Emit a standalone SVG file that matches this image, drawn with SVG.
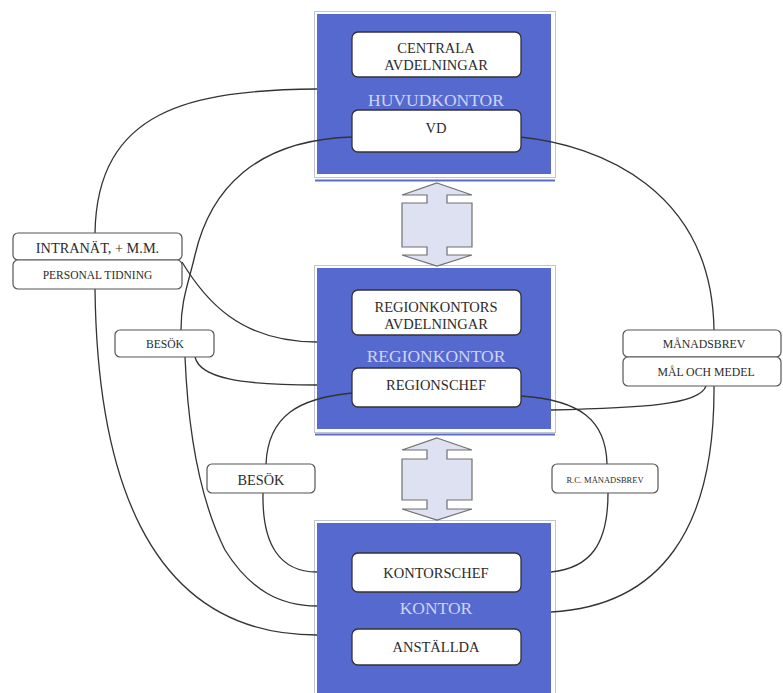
<svg xmlns="http://www.w3.org/2000/svg" width="783" height="693" viewBox="0 0 783 693">
<style>
.bg{fill:#ffffff}
.frame{fill:none;stroke:#bfc3d3;stroke-width:1}
.blue{fill:#5669cf}
.bar{stroke:#5b6cc9;stroke-width:2.2}
.inner{fill:#ffffff;stroke:#333333;stroke-width:1.3}
.lbl{fill:#ffffff;stroke:#555555;stroke-width:1.2}
.t{font-family:"Liberation Serif","Times New Roman",serif;fill:#2b2b2b;text-anchor:middle}
.it{font-size:14.5px}
.cap{font-family:"Liberation Serif","Times New Roman",serif;fill:#cdd4f7;text-anchor:middle;font-size:17.5px}
.conn path{fill:none;stroke:#333333;stroke-width:1.3}
.arrow{fill:#dde1f2;stroke:#707070;stroke-width:1.2}
</style>
<rect class="bg" x="0" y="0" width="783" height="693"/>

<!-- containers -->
<g id="huvudkontor">
<rect class="frame" x="314.5" y="11.5" width="241" height="166"/>
<rect class="blue" x="317" y="14" width="234" height="160"/>
<line class="bar" x1="315" y1="180.5" x2="555" y2="180.5"/>
<text class="cap" x="436" y="106">HUVUDKONTOR</text>
</g>
<g id="regionkontor">
<rect class="frame" x="314.5" y="265.5" width="241" height="167"/>
<rect class="blue" x="317" y="268" width="234" height="161"/>
<line class="bar" x1="315" y1="434.5" x2="555" y2="434.5"/>
<text class="cap" x="436" y="362">REGIONKONTOR</text>
</g>
<g id="kontor">
<rect class="frame" x="314.5" y="520.5" width="241" height="180"/>
<rect class="blue" x="317" y="523" width="234" height="172"/>
<text class="cap" x="436" y="614">KONTOR</text>
</g>

<!-- double arrows -->
<g id="arrow1">
<polygon class="arrow" points="437,183 472,195 447,195 447,203 472,203 472,247 447,247 447,255 472,255 437,266 402,255 427,255 427,247 402,247 402,203 427,203 427,195 402,195"/>
</g>
<g id="arrow2">
<polygon class="arrow" points="437,438 472,450 447,450 447,459 472,459 472,500 447,500 447,509 472,509 437,520 402,509 427,509 427,500 402,500 402,459 427,459 427,450 402,450"/>
</g>

<!-- connectors -->
<g id="connectors" class="conn">
<path d="M317,89 C190,90 97,110 95,233"/>
<path d="M95,289 C97,460 140,635 317,635"/>
<path d="M182,262 C205,300 240,342 317,342"/>
<path d="M352,137 C255,140 210,190 195,255 C188,285 181,300 181,330"/>
<path d="M185,357 C188,430 200,500 225,550 C250,590 280,606 317,606"/>
<path d="M195,357 C200,378 240,385 317,385"/>
<path d="M352,393 C300,398 268,415 266,464"/>
<path d="M263,493 C262,545 280,572 317,572"/>
<path d="M520,137 C600,145 712,190 714,330"/>
<path d="M714,386 C715,530 660,606 551,612"/>
<path d="M706,386 C700,405 640,408 551,410"/>
<path d="M521,396 C580,400 606,420 607,464"/>
<path d="M608,493 C608,545 590,568 551,572"/>
</g>

<!-- inner nodes -->
<g id="centrala">
<rect class="inner" x="352" y="32" width="169" height="45" rx="6"/>
<text class="t it" x="436" y="53">CENTRALA</text>
<text class="t it" x="436" y="70">AVDELNINGAR</text>
</g>
<g id="vd">
<rect class="inner" x="352" y="110" width="169" height="42" rx="6"/>
<text class="t it" x="436" y="133">VD</text>
</g>
<g id="regionavd">
<rect class="inner" x="352" y="290" width="169" height="45" rx="6"/>
<text class="t it" x="436" y="312">REGIONKONTORS</text>
<text class="t it" x="436" y="329">AVDELNINGAR</text>
</g>
<g id="regionschef">
<rect class="inner" x="352" y="368" width="169" height="39" rx="6"/>
<text class="t it" x="436" y="390">REGIONSCHEF</text>
</g>
<g id="kontorschef">
<rect class="inner" x="352" y="553" width="169" height="39" rx="6"/>
<text class="t it" x="436" y="578">KONTORSCHEF</text>
</g>
<g id="anstallda">
<rect class="inner" x="352" y="629" width="169" height="36" rx="6"/>
<text class="t it" x="436" y="652">ANSTÄLLDA</text>
</g>

<!-- side labels -->
<g id="intranat">
<rect class="lbl" x="13" y="233" width="169" height="27" rx="5"/>
<text class="t" x="97.5" y="253" style="font-size:14.3px">INTRANÄT, + M.M.</text>
</g>
<g id="personal">
<rect class="lbl" x="13" y="260" width="169" height="29" rx="5"/>
<text class="t" x="97.5" y="278.5" style="font-size:11.5px">PERSONAL TIDNING</text>
</g>
<g id="besok1">
<rect class="lbl" x="115" y="330" width="99" height="27" rx="5"/>
<text class="t" x="165" y="347.5" style="font-size:11.6px">BESÖK</text>
</g>
<g id="manadsbrev">
<rect class="lbl" x="623" y="330" width="158" height="27" rx="5"/>
<text class="t" x="704" y="347.5" style="font-size:11.8px">MÅNADSBREV</text>
</g>
<g id="malochmedel">
<rect class="lbl" x="623" y="357" width="158" height="29" rx="5"/>
<text class="t" x="706" y="375.5" style="font-size:11.8px">MÅL OCH MEDEL</text>
</g>
<g id="besok2">
<rect class="lbl" x="207" y="464" width="108" height="29" rx="5"/>
<text class="t" x="261" y="485" style="font-size:14.3px">BESÖK</text>
</g>
<g id="rcmanadsbrev">
<rect class="lbl" x="552" y="464" width="106" height="29" rx="5"/>
<text class="t" x="605" y="482.5" style="font-size:8.5px">R.C. MÅNADSBREV</text>
</g>
</svg>
